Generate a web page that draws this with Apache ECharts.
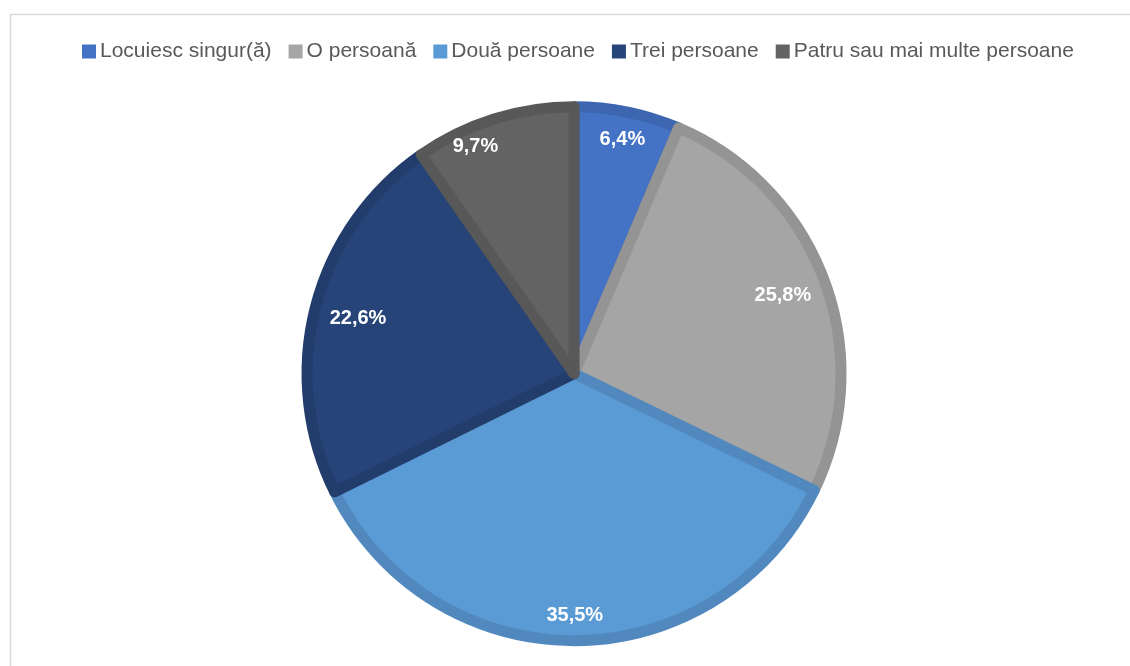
<!DOCTYPE html>
<html>
<head>
<meta charset="utf-8">
<script src="https://cdn.jsdelivr.net/npm/echarts@6/dist/echarts.min.js"></script>
<style>
  html, body { margin: 0; padding: 0; background: #ffffff; }
  #chart { width: 1130px; height: 666px; }
</style>
</head>
<body>
<div id="chart"></div>
<script>
// Household size shares (%)
const categories = ['Locuiesc singur(ă)', 'O persoană', 'Două persoane', 'Trei persoane', 'Patru sau mai multe persoane'];
const shares = [6.4, 25.8, 35.5, 22.6, 9.7];
const fillColors = ['#4472c4', '#a5a5a5', '#5b9bd5', '#264478', '#636363'];
const edgeColors = ['#3c66b0', '#949494', '#5189bf', '#223c6b', '#585858'];
// labels placed further out vs. closer in
const outerLabelSet = [true, false, true, false, true];

const FONT = 'Liberation Sans, Arial, sans-serif';
const center = ['50.8%', '56.1%'];

const fmt = v => v.toFixed(1).replace('.', ',') + '%';

const pieData = categories.map((name, i) => ({
  name,
  value: shares[i],
  itemStyle: { color: fillColors[i], borderColor: edgeColors[i] }
}));

// narrow slice labels are nudged sideways so they stay clear of the edges
const labelNudge = { 'Patru sau mai multe persoane': [-26, 4], 'Locuiesc singur(ă)': [0, 3] };

function labelRing(showFlags) {
  return categories.map((name, i) => ({
    name,
    value: shares[i],
    label: { show: showFlags[i], offset: labelNudge[name] || [0, 0] }
  }));
}

const labelStyle = {
  position: 'inside',
  color: '#ffffff',
  fontFamily: FONT,
  fontWeight: 'bold',
  fontSize: 20,
  formatter: p => fmt(p.value)
};

const chart = echarts.init(document.getElementById('chart'), null, { renderer: 'canvas' });
chart.setOption({
  animation: false,
  backgroundColor: '#ffffff',
  graphic: [{
    type: 'rect',
    left: 8, top: 12,
    shape: { width: 1140, height: 680 },
    style: { fill: 'none', stroke: '#d9d9d9', lineWidth: 1.5 },
    silent: true
  }],
  legend: {
    top: 36,
    left: 77,
    data: categories,
    icon: 'rect',
    itemWidth: 14,
    itemHeight: 14,
    itemGap: 17,
    itemStyle: { borderWidth: 0 },
    textStyle: { color: '#595959', fontFamily: FONT, fontSize: 21, padding: [0, 0, 0, -1] },
    selectedMode: false
  },
  series: [
    {
      type: 'pie',
      center,
      radius: 267,
      startAngle: 90,
      clockwise: true,
      label: { show: false },
      labelLine: { show: false },
      itemStyle: { borderWidth: 11, borderJoin: 'round' },
      emphasis: { disabled: true },
      data: pieData,
      z: 2
    },
    {
      type: 'pie',
      center,
      radius: [206, 272],
      startAngle: 90,
      clockwise: true,
      silent: true,
      legendHoverLink: false,
      itemStyle: { color: 'rgba(0,0,0,0)' },
      label: labelStyle,
      labelLine: { show: false },
      emphasis: { disabled: true },
      data: labelRing(outerLabelSet),
      z: 3
    },
    {
      type: 'pie',
      center,
      radius: [172, 268],
      startAngle: 90,
      clockwise: true,
      silent: true,
      legendHoverLink: false,
      itemStyle: { color: 'rgba(0,0,0,0)' },
      label: labelStyle,
      labelLine: { show: false },
      emphasis: { disabled: true },
      data: labelRing(outerLabelSet.map(f => !f)),
      z: 3
    }
  ]
});
</script>
</body>
</html>
